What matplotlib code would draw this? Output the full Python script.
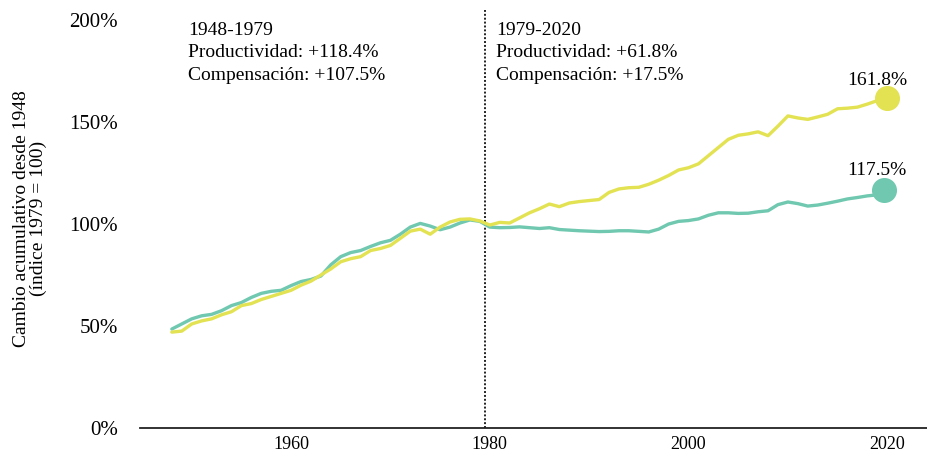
import matplotlib.pyplot as plt

plt.rcParams["font.family"] = ["Liberation Serif", "DejaVu Serif"]

years = list(range(1948, 2021))

# productividad neta (amarillo), indice 1979 = 100
productivity = [
    47.0, 47.5, 51.0, 52.5, 53.5, 55.5, 57.0, 60.0, 61.0, 63.0,
    64.5, 66.0, 67.5, 70.0, 72.0, 75.0, 78.0, 81.5, 83.0, 84.0,
    87.0, 88.0, 89.5, 93.0, 96.5, 97.5, 95.0, 98.5, 101.0, 102.3,
    102.5, 101.5, 99.5, 100.8, 100.5, 103.0, 105.5, 107.5, 109.8, 108.5,
    110.3, 111.0, 111.5, 112.0, 115.5, 117.2, 117.8, 118.0, 119.5, 121.5,
    123.8, 126.5, 127.6, 129.5, 133.5, 137.5, 141.5, 143.5, 144.2, 145.2,
    143.3, 148.0, 153.0, 152.0, 151.3, 152.5, 153.8, 156.5, 156.8, 157.3,
    158.8, 160.5, 161.8,
]

# compensacion por hora (verde)
compensation = [
    48.5, 51.0, 53.5, 55.0, 55.7, 57.5, 60.0, 61.5, 64.0, 66.0,
    67.0, 67.5, 69.8, 71.8, 72.8, 74.5, 80.0, 84.0, 86.0, 87.0,
    89.0, 90.8, 92.0, 95.0, 98.5, 100.3, 99.0, 97.2, 98.5, 100.5,
    102.0, 101.3, 98.5, 98.2, 98.3, 98.6, 98.2, 97.8, 98.2, 97.3,
    97.0, 96.7, 96.5, 96.3, 96.4, 96.7, 96.7, 96.4, 96.1, 97.5,
    100.0, 101.3, 101.7, 102.5, 104.3, 105.5, 105.5, 105.2, 105.3, 106.0,
    106.5, 109.5, 110.8, 110.0, 108.8, 109.3, 110.2, 111.2, 112.3, 113.0,
    113.8, 114.3, 116.5,
]

y_ticks = [0, 50, 100, 150, 200]
y_tick_labels = ["0%", "50%", "100%", "150%", "200%"]
x_ticks = [1960, 1980, 2000, 2020]

divider_year = 1979.5
left_notes = ["1948-1979", "Productividad: +118.4%", "Compensación: +107.5%"]
right_notes = ["1979-2020", "Productividad: +61.8%", "Compensación: +17.5%"]
end_labels = ["161.8%", "117.5%"]

yellow = "#e2e252"
green = "#6fc8af"

fig = plt.figure(figsize=(9.28, 4.54), dpi=100)
ax = fig.add_axes([0.1509, 0.0573, 0.8491, 0.921])

ax.plot(years, compensation, color=green, lw=2.4, solid_capstyle="round", zorder=3)
ax.plot(years, productivity, color=yellow, lw=2.4, solid_capstyle="round", zorder=4)
ax.plot(years[-1], productivity[-1], "o", color=yellow, ms=17, zorder=5)
ax.plot(years[-1] - 0.3, compensation[-1], "o", color=green, ms=17, zorder=5)

ax.axvline(divider_year, color="#222222", lw=1.4, ls=(0, (1, 1)), zorder=2)

ax.set_xlim(1944.8, 2024.1)
ax.set_ylim(0, 205)

for i, t in enumerate(left_notes):
    ax.text(1949.6, 195.0 - i * 11.0, t, fontsize=14, va="center", ha="left")
for i, t in enumerate(right_notes):
    ax.text(1980.6, 195.0 - i * 11.0, t, fontsize=14, va="center", ha="left")

ax.text(2019.0, productivity[-1] + 8.8, end_labels[0], fontsize=14, ha="center", va="center")
ax.text(2019.0, compensation[-1] + 9.6, end_labels[1], fontsize=14, ha="center", va="center")

ax.set_yticks(y_ticks)
ax.set_yticklabels(y_tick_labels)
ax.set_xticks(x_ticks)
ax.tick_params(axis="y", length=0, pad=16, labelsize=15)
ax.tick_params(axis="x", length=0, pad=6, labelsize=13)

for s in ["top", "right", "left"]:
    ax.spines[s].set_visible(False)
ax.spines["bottom"].set_color("#222222")
ax.spines["bottom"].set_linewidth(1.3)

ax.set_ylabel("Cambio acumulativo desde 1948\n(índice 1979 = 100)", fontsize=14, labelpad=16,
              linespacing=1.0)

fig.savefig("out.png", dpi=100)
